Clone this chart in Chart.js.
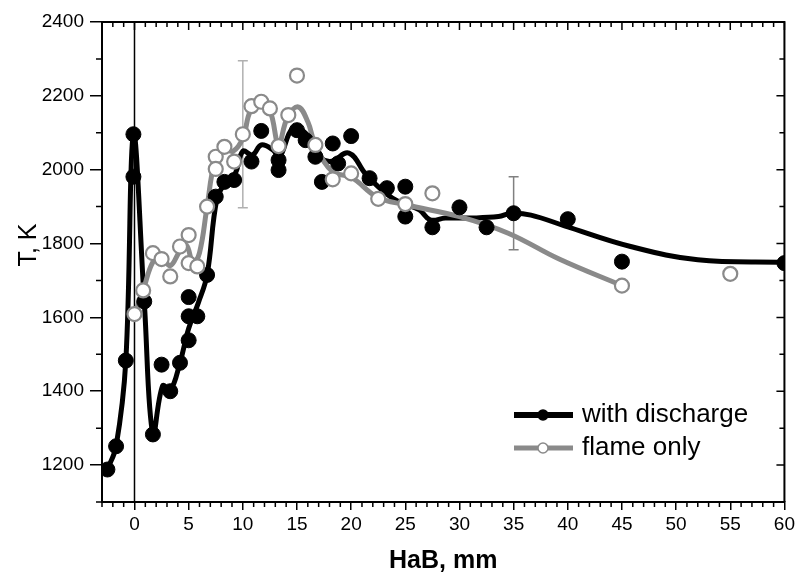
<!DOCTYPE html>
<html>
<head>
<meta charset="utf-8">
<script src="https://cdn.jsdelivr.net/npm/chart.js@4.4.0/dist/chart.umd.min.js"></script>
<style>
  html, body { margin: 0; background: #fff; }
  #wrap { width: 798px; height: 574px; }
</style>
</head>
<body>
<div id="wrap"><canvas id="chart" width="798" height="574"></canvas></div>
<script>
// measured points - with discharge
const blackX = [-2.5, -1.7, -0.8, -0.1, -0.1, 0.9, 1.7, 2.5, 3.3, 4.2, 5.0, 5.0, 5.0, 5.8, 6.7, 7.5, 8.3, 9.2, 10.8, 11.7,
                13.3, 13.3, 15.0, 15.8, 16.7, 17.3, 18.3, 18.8, 20.0, 21.7, 23.3, 25.0, 25.0, 27.5, 30.0, 32.5, 35.0, 40.0, 45.0, 60.0];
const blackY = [1188, 1251, 1483, 2096, 1981, 1643, 1283, 1472, 1400, 1477, 1538, 1603, 1655, 1603, 1715, 1927, 1967, 1972, 2022, 2105,
                2026, 1999, 2107, 2080, 2035, 1967, 2071, 2017, 2091, 1977, 1950, 1954, 1873, 1844, 1898, 1844, 1882, 1866, 1751, 1747];

// measured points - flame only
const grayX = [0.0, 0.8, 1.7, 2.5, 3.3, 4.2, 5.0, 5.0, 5.8, 6.7, 7.5, 7.5, 8.3, 9.2, 10.0, 10.8, 11.7, 12.5, 13.3, 14.2,
               15.0, 16.7, 18.3, 20.0, 22.5, 25.0, 27.5, 45.0, 55.0];
const grayY = [1609, 1673, 1774, 1758, 1711, 1792, 1823, 1747, 1738, 1900, 2035, 2002, 2062, 2022, 2096, 2172, 2184, 2166, 2064, 2148,
               2255, 2067, 1974, 1990, 1921, 1907, 1936, 1686, 1718];

// smoothed curves
const blackFitX = [-2.5, -1.7, -0.8, -0.1, 0.9, 1.7, 2.6, 3.3, 4.2, 5.0, 5.9, 6.7, 7.6, 8.4, 9.3, 10.0, 10.9, 11.7, 12.8, 13.4,
                   14.6, 15.8, 16.5, 18.0, 19.8, 21.4, 23.8, 26.3, 27.3, 28.7, 31.0, 33.6, 34.8, 36.6, 39.7, 45.8, 52.0, 60.0];
const blackFitY = [1188, 1251, 1483, 2096, 1643, 1283, 1415, 1402, 1477, 1570, 1640, 1715, 1920, 1965, 1990, 2050, 2040, 2067, 2053, 2035,
                   2112, 2099, 2053, 2022, 2045, 1986, 1923, 1891, 1864, 1869, 1869, 1873, 1882, 1877, 1848, 1792, 1756, 1749];
const grayFitX = [0.0, 0.8, 1.7, 2.5, 3.3, 4.2, 4.8, 5.4, 6.0, 6.7, 7.4, 8.2, 9.1, 10.0, 10.7, 11.6, 12.5, 13.3, 14.1, 15.1,
                  16.0, 16.7, 18.3, 20.0, 22.4, 25.0, 30.0, 34.5, 39.2, 45.0];
const grayFitY = [1609, 1673, 1750, 1762, 1740, 1780, 1795, 1748, 1775, 1900, 2020, 2055, 2050, 2085, 2160, 2184, 2160, 2070, 2140, 2170,
                  2130, 2067, 1994, 1980, 1926, 1905, 1873, 1828, 1758, 1686];

// error bars
const errX = [10, 35];
const errLow = [1897, 1783];
const errHigh = [2295, 1981];
const errColor = ['#b0b0b0', '#808080'];

const xTicks = [0, 5, 10, 15, 20, 25, 30, 35, 40, 45, 50, 55, 60];
const yTicks = [1200, 1400, 1600, 1800, 2000, 2200, 2400];

const GRAY = '#8a8a8a';
const SANS = '"Liberation Sans", Arial, sans-serif';

function pts(xs, ys) {
    return xs.map((v, i) => ({ x: v, y: ys[i] }));
}

const framePlugin = {
    id: 'frame',
    beforeDatasetsDraw(chart) {
        const { ctx, chartArea: a, scales: { x, y } } = chart;
        ctx.save();
        // vertical line at HaB = 0
        ctx.strokeStyle = '#000';
        ctx.lineWidth = 1.5;
        const x0 = x.getPixelForValue(0);
        ctx.beginPath();
        ctx.moveTo(x0, a.top);
        ctx.lineTo(x0, a.bottom);
        ctx.stroke();
        // error bars
        errX.forEach((v, i) => {
            const px = x.getPixelForValue(v);
            const lo = y.getPixelForValue(errLow[i]);
            const hi = y.getPixelForValue(errHigh[i]);
            ctx.strokeStyle = errColor[i];
            ctx.lineWidth = 1.5;
            ctx.beginPath();
            ctx.moveTo(px, lo); ctx.lineTo(px, hi);
            ctx.moveTo(px - 5, lo); ctx.lineTo(px + 5, lo);
            ctx.moveTo(px - 5, hi); ctx.lineTo(px + 5, hi);
            ctx.stroke();
        });
        ctx.restore();
    },
    afterDraw(chart) {
        const { ctx, chartArea: a, scales: { x, y } } = chart;
        ctx.save();
        ctx.strokeStyle = '#000';

        // top + right border
        ctx.lineWidth = 2;
        ctx.beginPath();
        ctx.moveTo(a.left, a.top);
        ctx.lineTo(a.right, a.top);
        ctx.lineTo(a.right, a.bottom);
        ctx.stroke();

        ctx.lineWidth = 1.5;
        ctx.beginPath();
        // x ticks: minor on bottom, major+minor inward on top
        for (let v = -3; v <= 60; v++) {
            const px = x.getPixelForValue(v);
            const major = v % 5 === 0;
            if (!major) {
                ctx.moveTo(px, a.bottom); ctx.lineTo(px, a.bottom + 5);
            }
            ctx.moveTo(px, a.top); ctx.lineTo(px, a.top + (major ? 8 : 5));
        }
        // y ticks: minor on left, major+minor inward on right
        for (let v = 1100; v <= 2400; v += 100) {
            const py = y.getPixelForValue(v);
            const major = v % 200 === 0;
            if (!major) {
                ctx.moveTo(a.left, py); ctx.lineTo(a.left - 6, py);
            }
            ctx.moveTo(a.right, py); ctx.lineTo(a.right - (major ? 8 : 5), py);
        }
        ctx.stroke();

        // axis titles
        ctx.fillStyle = '#000';
        ctx.font = 'bold 25px ' + SANS;
        ctx.textAlign = 'center';
        ctx.textBaseline = 'alphabetic';
        ctx.fillText('HaB, mm', (a.left + a.right) / 2, 568);

        ctx.save();
        ctx.translate(36, 245);
        ctx.rotate(-Math.PI / 2);
        ctx.font = '25px ' + SANS;
        ctx.fillText('T, K', 0, 0);
        ctx.restore();

        // legend
        const items = [
            { label: 'with discharge', line: '#000', fill: '#000', stroke: '#000', y: 415, w: 6 },
            { label: 'flame only', line: GRAY, fill: '#fff', stroke: GRAY, y: 448, w: 5 }
        ];
        items.forEach(it => {
            ctx.strokeStyle = it.line;
            ctx.lineWidth = it.w;
            ctx.beginPath();
            ctx.moveTo(514, it.y); ctx.lineTo(573, it.y);
            ctx.stroke();
            ctx.beginPath();
            ctx.arc(543, it.y, 5, 0, Math.PI * 2);
            ctx.fillStyle = it.fill;
            ctx.fill();
            ctx.lineWidth = 1.5;
            ctx.strokeStyle = it.stroke;
            ctx.stroke();
            ctx.fillStyle = '#000';
            ctx.font = '26px ' + SANS;
            ctx.textAlign = 'left';
            ctx.textBaseline = 'middle';
            ctx.fillText(it.label, 582, it.y);
        });
        ctx.restore();
    }
};

new Chart(document.getElementById('chart'), {
    type: 'scatter',
    data: {
        datasets: [
            {
                label: 'flame only',
                data: pts(grayX, grayY),
                pointRadius: 7,
                pointBackgroundColor: '#fff',
                pointBorderColor: GRAY,
                pointBorderWidth: 2.2,
                showLine: false,
                order: 0
            },
            {
                label: 'with discharge',
                data: pts(blackX, blackY),
                pointRadius: 7.5,
                pointBackgroundColor: '#000',
                pointBorderColor: '#000',
                pointBorderWidth: 1,
                showLine: false,
                order: 1
            },
            {
                label: 'flame only fit',
                data: pts(grayFitX, grayFitY),
                showLine: true,
                pointRadius: 0,
                borderColor: GRAY,
                borderWidth: 5,
                tension: 0.4,
                order: 2
            },
            {
                label: 'with discharge fit',
                data: pts(blackFitX, blackFitY),
                showLine: true,
                pointRadius: 0,
                borderColor: '#000',
                borderWidth: 5,
                tension: 0.4,
                order: 3
            }
        ]
    },
    options: {
        responsive: false,
        animation: false,
        layout: { padding: { top: 22, right: 11, left: 0, bottom: 0 } },
        plugins: { legend: { display: false }, tooltip: { enabled: false } },
        scales: {
            x: {
                type: 'linear',
                min: -3,
                max: 60,
                afterBuildTicks: s => { s.ticks = xTicks.map(v => ({ value: v })); },
                afterFit: s => { s.height = 72; },
                ticks: { color: '#000', font: { family: SANS, size: 19 }, padding: 3, maxRotation: 0, autoSkip: false,
                         callback: v => String(v) },
                grid: { drawOnChartArea: false, tickLength: 8, color: '#000', lineWidth: 1.5 },
                border: { color: '#000', width: 2 }
            },
            y: {
                min: 1100,
                max: 2400,
                afterBuildTicks: s => { s.ticks = yTicks.map(v => ({ value: v })); },
                afterFit: s => { s.width = 102; },
                ticks: { color: '#000', font: { family: SANS, size: 19 }, padding: 6, autoSkip: false,
                         callback: v => String(v) },
                grid: { drawOnChartArea: false, tickLength: 12, color: '#000', lineWidth: 1.5 },
                border: { color: '#000', width: 2 }
            }
        }
    },
    plugins: [framePlugin]
});
</script>
</body>
</html>
